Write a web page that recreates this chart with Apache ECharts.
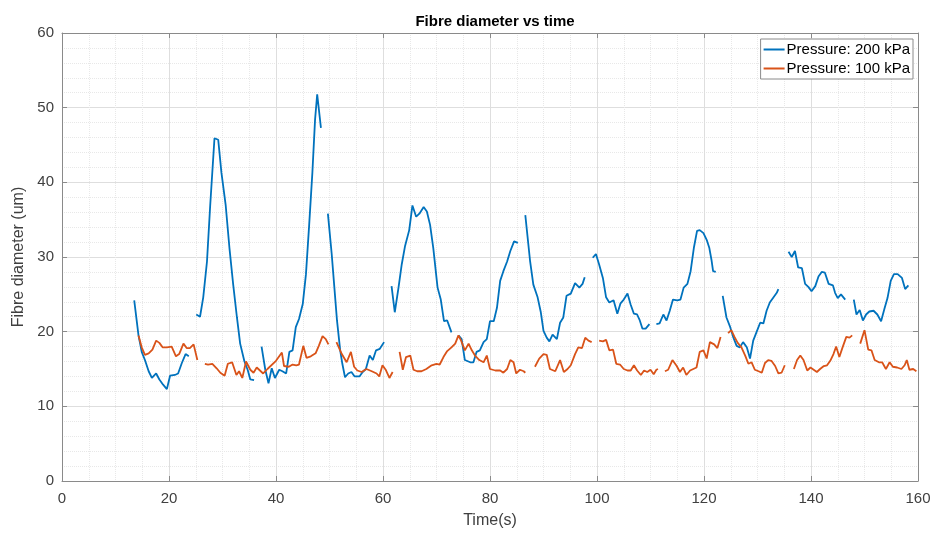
<!DOCTYPE html>
<html>
<head>
<meta charset="UTF-8">
<title>Fibre diameter vs time</title>
<script src="https://cdn.jsdelivr.net/npm/echarts@6/dist/echarts.min.js"></script>
<style>
html,body{margin:0;padding:0;background:#fff;}
#main{width:935px;height:534px;}
</style>
</head>
<body>
<div id="main"></div>
<script>
// each series is a list of segments (gaps between segments), points are [time, diameter]
var xTicks = [0, 20, 40, 60, 80, 100, 120, 140, 160];
var yTicks = [0, 10, 20, 30, 40, 50, 60];

var p200 = [
  [[13.5,24.2],[14.3,19.5],[14.9,17.3],[15.5,16.2],[16.2,14.7],[16.8,13.8],[17.6,14.4],[18.2,13.6],[18.9,12.9],[19.6,12.3],[20.2,14.1],[21.1,14.2],[21.7,14.4],[22.4,15.8],[23.1,17.0],[23.7,16.7]],
  [[25.1,22.3],[25.8,22.0],[26.4,24.6],[27.1,29.4],[27.7,36.9],[28.5,45.9],[29.2,45.7],[29.8,41.3],[30.6,36.9],[31.3,31.2],[32.0,26.3],[32.7,21.9],[33.3,18.4],[34.1,16.0],[34.7,14.9],[35.2,13.6],[35.9,13.5]],
  [[37.3,18.0],[38.0,14.9],[38.6,13.1],[39.2,15.1],[39.8,13.8],[40.6,14.9],[41.2,14.7],[41.9,14.4],[42.5,17.3],[43.1,17.5],[43.7,20.6],[44.3,21.7],[45.0,23.7],[45.6,27.7],[46.2,34.3],[46.8,41.3],[47.3,48.4],[47.7,51.8],[48.4,47.3]],
  [[49.7,35.8],[50.4,30.5],[50.9,26.0],[51.4,21.5],[52.0,17.5],[52.4,15.7],[52.9,13.9],[53.5,14.4],[54.1,14.6],[54.7,14.0],[55.6,14.0],[56.2,14.6],[56.8,15.0],[57.5,16.8],[58.1,16.2],[58.7,17.5],[59.4,17.7],[60.2,18.6]],
  [[61.6,26.1],[62.2,22.6],[62.9,25.9],[63.5,29.0],[64.1,31.4],[64.9,33.6],[65.5,36.9],[66.2,35.4],[66.8,35.8],[67.6,36.7],[68.2,36.1],[68.8,34.3],[69.4,31.2],[70.2,25.9],[70.8,24.3],[71.4,21.4],[72.0,21.5],[72.8,19.9]],
  [[74.1,19.5],[74.7,19.0],[75.3,16.2],[76.3,15.9],[76.9,15.9],[77.5,17.3],[78.1,17.5],[78.8,18.6],[79.4,19.0],[80.0,21.4],[80.7,21.4],[81.3,23.2],[81.9,26.8],[82.5,28.1],[83.2,29.4],[83.8,30.8],[84.5,32.1],[85.2,31.9]],
  [[86.6,35.6],[87.5,29.4],[88.1,26.3],[88.9,24.6],[89.5,22.6],[90.0,20.1],[90.6,19.2],[91.1,18.7],[91.7,19.6],[92.5,19.0],[93.1,21.2],[93.7,21.9],[94.3,24.8],[95.1,25.1],[95.9,26.5],[96.7,25.9],[97.3,26.4],[97.7,27.3]],
  [[99.2,29.9],[99.8,30.4],[100.4,29.0],[101.1,27.2],[101.7,24.6],[102.3,23.9],[103.1,24.2],[103.8,22.4],[104.4,23.8],[105.0,24.3],[105.7,25.1],[106.3,23.6],[106.9,22.4],[107.5,22.3],[108.0,21.5],[108.5,20.4],[109.1,20.4],[109.8,21.0]],
  [[111.1,21.0],[111.7,21.1],[112.4,22.3],[113.0,21.5],[113.6,22.8],[114.2,24.3],[115.0,24.2],[115.6,24.3],[116.2,25.9],[116.9,26.4],[117.5,28.1],[118.1,31.2],[118.7,33.5],[119.2,33.6],[119.9,33.2],[120.5,32.3],[121.0,31.2],[121.4,29.6],[121.7,28.1],[122.2,28.0]],
  [[123.5,24.8],[124.2,21.9],[124.9,20.6],[125.5,19.2],[126.1,18.1],[126.7,17.9],[127.3,18.6],[128.0,17.9],[128.6,16.4],[129.2,18.8],[129.8,19.9],[130.5,21.2],[131.1,21.1],[131.7,22.8],[132.3,23.9],[133.0,24.6],[133.6,25.2],[133.9,25.7]],
  [[135.8,30.7],[136.4,30.0],[137.0,30.8],[137.6,28.6],[138.3,28.5],[138.9,26.4],[139.5,26.0],[140.1,25.4],[140.8,26.1],[141.4,27.4],[142.0,28.0],[142.6,27.9],[143.3,26.4],[144.1,26.2],[144.5,25.2],[145.0,24.5],[145.6,25.0],[146.4,24.3]],
  [[148.0,24.3],[148.5,22.3],[149.1,22.9],[149.7,21.5],[150.3,22.3],[150.9,22.7],[151.7,22.8],[152.4,22.3],[153.1,21.4],[153.7,23.0],[154.3,24.5],[154.9,26.8],[155.5,27.7],[156.2,27.7],[157.0,27.2],[157.6,25.7],[158.2,26.2]]
];

var p100 = [
  [[14.3,19.5],[14.9,17.9],[15.5,16.9],[16.2,17.1],[16.9,17.6],[17.6,18.8],[18.2,18.5],[18.8,17.9],[19.6,17.9],[20.5,18.0],[21.3,16.7],[21.9,17.0],[22.7,18.4],[23.3,17.8],[23.9,17.8],[24.6,18.3],[25.3,16.2]],
  [[26.7,15.7],[27.3,15.6],[28.1,15.7],[28.9,15.1],[29.6,14.5],[30.4,14.1],[31.0,15.7],[31.8,15.9],[32.6,14.2],[33.1,14.7],[33.7,13.8],[34.4,16.0],[35.2,14.9],[35.8,14.5],[36.4,15.2],[37.0,14.8],[37.6,14.4],[38.4,15.0],[40.0,16.1],[41.1,17.2],[41.5,15.4],[42.4,15.3],[43.1,15.6],[43.8,15.5],[44.3,15.6],[45.1,18.1],[45.7,16.5],[46.5,16.7],[47.4,17.1],[48.0,18.1],[48.7,19.4],[49.3,19.0],[49.8,18.3]],
  [[51.3,18.6],[52.3,17.0],[53.2,15.9],[54.0,17.3],[54.6,15.3],[55.2,14.8],[56.0,14.6],[56.9,15.0],[57.9,14.7],[58.8,14.4],[59.3,14.0],[59.9,15.5],[60.5,14.9],[61.2,13.8],[61.8,14.6]],
  [[63.1,17.3],[63.7,14.9],[64.3,16.6],[65.1,16.8],[65.7,14.9],[66.4,14.7],[67.2,14.7],[68.1,15.0],[69.1,15.5],[70.0,15.7],[70.6,15.6],[71.3,16.6],[72.0,17.4],[72.8,17.9],[73.5,18.4],[74.1,19.5],[74.6,18.8],[75.3,17.5],[76.0,18.4],[76.6,17.5],[77.2,16.8],[78.0,16.2],[78.8,15.9],[79.4,16.8],[80.0,15.0],[81.0,14.8],[81.9,14.8],[82.5,14.5],[83.2,15.0],[83.8,16.2],[84.4,15.9],[84.9,14.4],[85.6,14.9],[86.3,14.7],[86.6,14.5]],
  [[88.4,15.3],[89.2,16.4],[90.0,17.0],[90.6,16.9],[91.2,15.0],[92.2,14.7],[93.1,16.2],[93.8,14.6],[94.5,15.0],[95.1,15.5],[95.9,17.0],[96.5,17.9],[97.2,17.8],[97.8,19.2],[98.4,18.8],[99.0,18.6]],
  [[100.4,18.8],[101.1,18.7],[101.7,18.9],[102.3,17.5],[103.0,17.6],[103.6,15.7],[104.3,15.6],[105.0,15.0],[105.7,14.8],[106.3,14.8],[106.9,15.5],[107.5,14.8],[108.2,14.2],[108.8,14.8],[109.4,14.6],[110.0,14.9],[110.6,14.3],[111.1,14.9],[111.4,15.0]],
  [[112.7,14.7],[113.3,14.9],[114.1,16.2],[114.9,15.4],[115.5,14.6],[116.1,15.2],[116.7,14.2],[117.4,14.8],[118.0,15.0],[118.6,15.2],[119.2,17.3],[119.9,17.5],[120.5,16.4],[121.1,18.6],[121.9,18.3],[122.5,17.8],[123.1,19.3]],
  [[124.5,19.8],[125.1,20.2],[125.7,19.3],[126.3,18.5],[127.0,17.9],[127.7,16.8],[128.3,15.7],[128.9,15.9],[129.5,14.9],[130.2,14.7],[130.8,14.5],[131.4,15.8],[132.0,16.2],[132.6,16.1],[133.3,15.4],[133.9,14.4],[134.5,14.5],[135.1,15.5]],
  [[136.8,15.0],[137.4,16.2],[138.0,16.8],[138.6,16.2],[139.3,14.8],[139.9,15.2],[140.5,14.9],[141.1,14.6],[141.7,15.0],[142.4,15.4],[143.0,15.5],[143.6,16.1],[144.2,17.0],[144.7,18.0],[145.3,16.6],[145.9,17.9],[146.6,19.3],[147.2,19.2],[147.7,19.5]],
  [[149.2,18.4],[149.6,19.3],[150.0,20.2],[150.7,17.6],[151.3,17.5],[151.9,16.2],[152.7,15.9],[153.3,15.9],[154.0,15.0],[154.7,15.9],[155.3,15.3],[156.1,15.2],[156.9,15.0],[157.5,15.5],[157.9,16.2],[158.4,14.9],[159.1,15.0],[159.7,14.7]]
];

var names = ['Pressure: 200 kPa', 'Pressure: 100 kPa'];
var colors = ['#0072BD', '#D95319'];

var FONT = 'Liberation Sans, Arial, sans-serif';
var txt = '#404040';
var axisCol = '#8a8a8a';

var series = [];
[p200, p100].forEach(function(segs, k){
  segs.forEach(function(seg){
    series.push({
      name: names[k],
      type: 'line',
      data: seg,
      symbol: 'none',
      color: colors[k],
      lineStyle: {width: 1.8, color: colors[k]},
      animation: false
    });
  });
});

var tickStyle = {show: true, inside: true, length: 5, lineStyle: {color: axisCol}};

var myChart = echarts.init(document.getElementById('main'));
var option = {
  backgroundColor: '#fff',
  title: {
    text: 'Fibre diameter vs time',
    left: 490, top: 9, textAlign: 'center',
    textStyle: {fontFamily: FONT, fontSize: 15, fontWeight: 'bold', color: '#000'}
  },
  legend: {
    data: names,
    orient: 'vertical',
    right: 22, top: 39,
    backgroundColor: '#fff',
    borderColor: '#8a8a8a', borderWidth: 1,
    padding: [2, 3, 2, 3],
    itemGap: 2,
    icon: 'rect',
    itemWidth: 21, itemHeight: 2,
    textStyle: {fontFamily: FONT, fontSize: 15, color: '#000', padding: [0, 0, 0, -3], lineHeight: 17}
  },
  grid: {left: 62, right: 17, top: 33, bottom: 50, containLabel: false},
  xAxis: [{
    type: 'value', min: 0, max: 160, interval: 20,
    name: 'Time(s)', nameLocation: 'middle', nameGap: 32,
    nameTextStyle: {fontFamily: FONT, fontSize: 16, color: txt},
    axisLine: {show: true, onZero: false, lineStyle: {color: axisCol}},
    axisTick: tickStyle,
    axisLabel: {fontFamily: FONT, fontSize: 15, color: txt, margin: 10},
    splitLine: {show: true, lineStyle: {color: '#dedede', width: 1}},
    minorTick: {show: false, splitNumber: 4},
    minorSplitLine: {show: true, lineStyle: {color: '#e8e8e8', type: 'dotted'}}
  }, {
    type: 'value', min: 0, max: 160, interval: 20, position: 'top',
    axisLine: {show: true, onZero: false, lineStyle: {color: axisCol}},
    axisTick: tickStyle,
    axisLabel: {show: false}, splitLine: {show: false}
  }],
  yAxis: [{
    type: 'value', min: 0, max: 60, interval: 10,
    name: 'Fibre diameter (um)', nameLocation: 'middle', nameGap: 30,
    nameTextStyle: {fontFamily: FONT, fontSize: 16, color: txt},
    axisLine: {show: true, onZero: false, lineStyle: {color: axisCol}},
    axisTick: tickStyle,
    axisLabel: {fontFamily: FONT, fontSize: 15, color: txt, margin: 8},
    splitLine: {show: true, lineStyle: {color: '#dedede', width: 1}},
    minorTick: {show: false, splitNumber: 5},
    minorSplitLine: {show: true, lineStyle: {color: '#e8e8e8', type: 'dotted'}}
  }, {
    type: 'value', min: 0, max: 60, interval: 10, position: 'right',
    axisLine: {show: true, onZero: false, lineStyle: {color: axisCol}},
    axisTick: tickStyle,
    axisLabel: {show: false}, splitLine: {show: false}
  }],
  series: series
};
myChart.setOption(option);
</script>
</body>
</html>
